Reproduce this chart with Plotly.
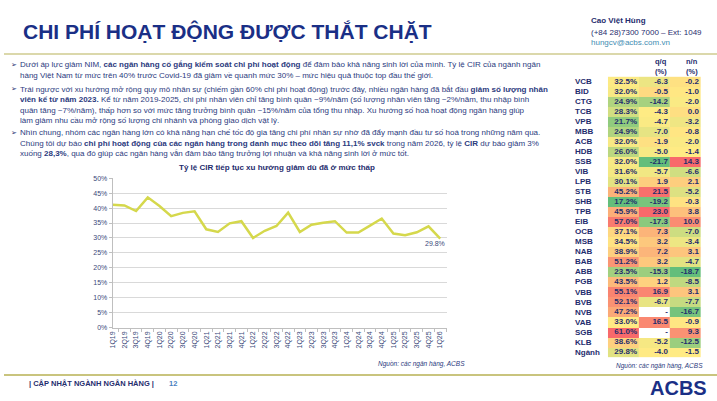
import plotly.graph_objects as go
import numpy as np

W, H = 717, 401
NAVY = "#1f2d6e"
TXT = "#2b3a7e"

def px(x):
    return x / W

def py(y):
    return 1 - y / H

# ---------------- data ----------------
quarters = ["1Q19", "2Q19", "3Q19", "4Q19", "1Q20", "2Q20", "3Q20", "4Q20",
            "1Q21", "2Q21", "3Q21", "4Q21", "1Q22", "2Q22", "3Q22", "4Q22",
            "1Q23", "2Q23", "3Q23", "4Q23", "1Q24", "2Q24", "3Q24", "4Q24",
            "1Q25", "2Q25", "3Q25", "4Q25", "1Q26"]
cir_sector = [41.1, 40.9, 39.0, 43.6, 40.7, 37.3, 38.4, 38.9,
              32.9, 32.0, 34.9, 35.6, 30.0, 32.4, 34.0, 38.5,
              32.0, 34.4, 35.1, 35.6, 31.8, 31.8, 34.1, 36.5,
              31.5, 30.9, 31.9, 33.9, 29.8]

banks = ["VCB", "BID", "CTG", "TCB", "VPB", "MBB", "ACB", "HDB", "SSB", "VIB",
         "LPB", "STB", "SHB", "TPB", "EIB", "OCB", "MSB", "NAB", "BAB", "ABB",
         "PGB", "VBB", "BVB", "NVB", "VAB", "SGB", "KLB", "Ngành"]
cir = [32.5, 32.0, 24.9, 28.3, 21.7, 24.9, 32.0, 26.0, 32.0, 31.6,
       30.1, 45.2, 17.2, 45.9, 57.0, 37.1, 34.5, 38.9, 51.2, 23.5,
       43.5, 55.1, 52.1, 47.2, 33.0, 61.0, 38.6, 29.8]
qoq = [-6.3, -0.5, -14.2, -4.3, -4.7, -7.0, -1.9, -5.0, -21.7, -5.7,
       1.9, 21.5, -19.2, 23.0, -17.3, 7.3, 3.2, 7.2, 3.2, -15.3,
       1.2, 16.9, -6.7, None, 16.5, None, -5.2, -4.0]
yoy = [-0.2, -1.0, -2.0, 0.0, -3.2, -0.8, -2.0, -1.4, 14.3, -6.6,
       2.1, -5.2, -0.3, 3.8, 10.0, -7.0, -3.4, 3.1, -4.7, -18.7,
       -8.5, 3.1, -7.7, -16.7, -0.9, 9.3, -12.5, -1.5]

fig = go.Figure()

# ---------------- line chart ----------------
fig.add_trace(go.Scatter(
    x=quarters, y=cir_sector, mode="lines",
    line=dict(color="#d5d84c", width=2.5),
    xaxis="x", yaxis="y", hoverinfo="skip", showlegend=False))

# ---------------- table (heatmaps) ----------------
rows = list(range(len(banks)))
cols = [(cir, lambda v: f"{v:.1f}%"), (qoq, lambda v: f"{v:.1f}"), (yoy, lambda v: f"{v:.1f}")]
for ci, (vals, fmt) in enumerate(cols):
    arr = np.array([np.nan if v is None else v for v in vals], dtype=float)
    vmin, vmax, vmed = np.nanmin(arr), np.nanmax(arr), np.nanmedian(arr)
    m = (vmed - vmin) / (vmax - vmin)
    fig.add_trace(go.Heatmap(
        z=[[v] for v in arr], x=[ci], y=rows,
        colorscale=[[0, "#63BE7B"], [m, "#FFEB84"], [1, "#F8696B"]],
        zmin=vmin, zmax=vmax, showscale=False, hoverinfo="skip",
        xaxis="x2", yaxis="y2"))
    fig.add_trace(go.Scatter(
        x=[ci + 0.44] * len(rows), y=rows, mode="text",
        text=["-" if v is None else fmt(v) for v in vals],
        textposition="middle left",
        textfont=dict(family="Liberation Sans, Arial", size=8, color=NAVY, weight="bold"),
        cliponaxis=False, hoverinfo="skip", showlegend=False,
        xaxis="x2", yaxis="y2"))

annotations = []

def note(x, y, text, size, color=NAVY, xanchor="left", family="Liberation Sans, Arial"):
    annotations.append(dict(x=px(x), y=py(y), xref="paper", yref="paper", text=text,
                            showarrow=False, xanchor=xanchor, yanchor="middle",
                            font=dict(family=family, size=size, color=color)))

for i, b in enumerate(banks):
    annotations.append(dict(
        x=px(571.7), y=i, xref="paper", yref="y2", text=f"<b>{b}</b>",
        showarrow=False, xanchor="left", yanchor="middle",
        font=dict(family="Liberation Sans, Arial", size=8, color=NAVY)))

for xc, t in [(661, "q/q"), (692, "n/n")]:
    note(xc, 59, f"<b>{t}</b>", 7.5, xanchor="center")
    note(xc, 68.5, "<b>(%)</b>", 7.5, xanchor="center")

# ---------------- header ----------------
note(17, 28, "<b>CHI PHÍ HOẠT ĐỘNG ĐƯỢC THẮT CHẶT</b>", 21, color="#1a2f86")
note(588, 16.5, "<b>Cao Việt Hùng</b>", 8)
note(588, 28.5, "(+84 28)7300 7000 – Ext: 1049", 8)
note(588, 39.5, "hungcv@acbs.com.vn", 8, color="#3f8db3")

# ---------------- body text ----------------
body = [
    (62, True, "Dưới áp lực giảm NIM, <b>các ngân hàng cố gắng kiểm soát chi phí hoạt động</b> để đảm bảo khả năng sinh lời của mình. Tỷ lệ CIR của ngành ngân"),
    (73, False, "hàng Việt Nam từ mức trên 40% trước Covid-19 đã giảm về quanh mức 30% – mức hiệu quả thuộc top đầu thế giới."),
    (87, True, "Trái ngược với xu hướng mở rộng quy mô nhân sự (chiếm gần 60% chi phí hoạt động) trước đây, nhiều ngân hàng đã bắt đầu <b>giảm số lượng nhân</b>"),
    (97.5, False, "<b>viên kể từ năm 2023.</b> Kể từ năm 2019-2025, chi phí nhân viên chỉ tăng bình quân ~9%/năm (số lượng nhân viên tăng ~2%/năm, thu nhập bình"),
    (108, False, "quân tăng ~7%/năm), thấp hơn so với mức tăng trưởng bình quân ~15%/năm của tổng thu nhập. Xu hướng số hoá hoạt động ngân hàng giúp"),
    (118.5, False, "làm giảm nhu cầu mở rộng số lượng chi nhánh và phòng giao dịch vật lý."),
    (131, True, "Nhìn chung, nhóm các ngân hàng lớn có khả năng hạn chế tốc độ gia tăng chi phí nhân sự nhờ đã đẩy mạnh đầu tư số hoá trong những năm qua."),
    (141.5, False, "Chúng tôi dự báo <b>chi phí hoạt động của các ngân hàng trong danh mục theo dõi tăng 11,1% svck</b> trong năm 2026, tỷ lệ <b>CIR</b> dự báo giảm 3%"),
    (152, False, "xuống <b>28,3%</b>, qua đó giúp các ngân hàng vẫn đảm bảo tăng trưởng lợi nhuận và khả năng sinh lời ở mức tốt."),
]
for y, bullet, t in body:
    if bullet:
        note(5, y, "➢", 7, family="DejaVu Sans")
    note(14, y, t, 8, color=TXT)

# chart title, label, sources
note(274.5, 166.7, "<b>Tỷ lệ CIR tiếp tục xu hướng giảm dù đã ở mức thấp</b>", 8, xanchor="center")
annotations.append(dict(x=quarters[-1], y=cir_sector[-1], xref="x", yref="y",
                        text=f"{cir_sector[-1]:.1f}%", showarrow=False, xshift=-5, yshift=-5,
                        font=dict(family="Liberation Sans, Arial", size=7, color="#3b4a7a")))
note(466, 366, "<i>Nguồn: các ngân hàng, ACBS</i>", 6.5, color=TXT, xanchor="right")
note(705, 367.5, "<i>Nguồn: các ngân hàng, ACBS</i>", 6.5, color=TXT, xanchor="right")

# footer
note(23, 386, "<b>| CẬP NHẬT NGÀNH NGÂN HÀNG |</b>", 7.5)
note(164, 386, "<b>12</b>", 7.5, color="#4a7fc1")
note(709, 391, "<b>ACBS</b>", 20, color="#1a2f86", xanchor="right")

shapes = [
    dict(type="line", xref="paper", yref="paper", x0=0, x1=1, y0=py(51), y1=py(51),
         line=dict(color="#cfcb8f", width=1.5)),
    dict(type="line", xref="paper", yref="paper", x0=0, x1=1, y0=py(377.5), y1=py(377.5),
         line=dict(color="#c9c47e", width=2)),
]

fig.update_layout(
    width=W, height=H, margin=dict(l=0, r=0, t=0, b=0),
    paper_bgcolor="white", plot_bgcolor="white", showlegend=False,
    annotations=annotations, shapes=shapes,
    xaxis=dict(domain=[px(109.3), px(445.7)], type="category",
               showgrid=False, showline=True, linecolor="#bfbfbf", linewidth=1,
               ticks="outside", tickson="boundaries", ticklen=3, tickcolor="#bfbfbf",
               tickangle=-90, tickfont=dict(family="Liberation Sans, Arial", size=7, color="#3b4a7a"),
               fixedrange=True),
    yaxis=dict(domain=[py(329.3), py(177.3)], range=[0, 50], dtick=5, ticksuffix="%",
               showgrid=True, gridcolor="#d9d9d9", gridwidth=1, zeroline=False,
               showline=True, linecolor="#bfbfbf", linewidth=1,
               ticks="outside", ticklen=3, tickcolor="#bfbfbf",
               tickfont=dict(family="Liberation Sans, Arial", size=7, color="#3b4a7a"),
               fixedrange=True),
    xaxis2=dict(domain=[px(607.3), px(700.7)], range=[-0.5, 2.5], visible=False, fixedrange=True),
    yaxis2=dict(domain=[py(359.4), py(73.9)], range=[27.5, -0.5], visible=False, fixedrange=True),
)

fig.write_html("out.html", config={"displayModeBar": False})

# remove default page margins so the figure sits at the window's top-left corner
with open("out.html", "r", encoding="utf-8") as f:
    html = f.read()
html = html.replace("<head>", "<head><style>html,body{margin:0;padding:0;overflow:hidden;}</style>", 1)
with open("out.html", "w", encoding="utf-8") as f:
    f.write(html)
